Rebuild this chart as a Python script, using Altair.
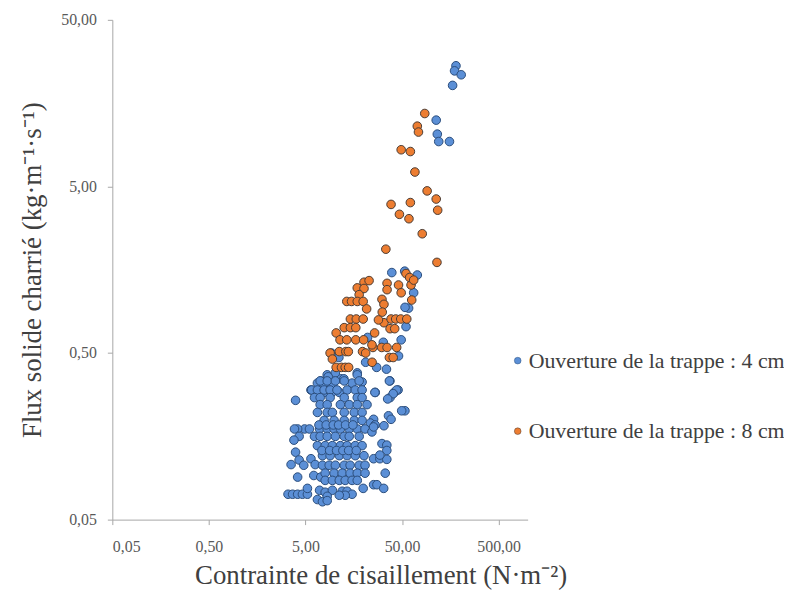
import altair as alt
import pandas as pd

# Series 1: Ouverture de la trappe : 4 cm (shear stress N/m2, bedload flux kg/m/s)
blue_x = [181, 175, 205, 167, 113, 116, 120, 155,
          39.2, 72, 66, 58.5, 53.7, 55, 49, 32, 9.3, 46, 21, 27.3, 34.5, 37.5, 53.3, 22,
          17.2, 26.4, 37.6, 41.5, 45.5, 53.6,
          8.4, 7.2, 9.1, 5.7, 3.95, 6.3, 7.8, 9.4, 11.2, 11.6, 10.2, 11.1,
          8.6, 6.65, 7.8, 9.5, 12.5, 15.2, 17.2, 19.3,
          7.1, 8.4, 10.2, 12.6, 18.0,
          5.8, 6.65, 7.8, 9.0, 10.6, 13.5, 16.4, 19.3,
          26.2, 37, 44, 40.5, 35.5,
          6.2, 7.1, 9.0, 12.6, 17.2, 19.3,
          49.6, 36.2, 38.5,
          7.1, 8.4, 11.5, 14.2, 17.2, 21.7,
          6.65, 8.4, 9.5, 12.6, 16.0, 19.3,
          25.4, 23.5, 26.3, 32.5,
          7.8, 9.9, 12.6, 16.0, 19.3,
          4.9, 5.5, 4.15, 3.85, 7.0, 8.4, 9.9, 11.5, 14.2, 17.2, 20.7,
          4.3, 3.8,
          6.2, 7.1, 8.4, 10.2, 12.6, 14.2, 18.0,
          24.4, 25.4, 31, 34.8, 34.8,
          6.65, 8.0, 9.5, 11.5, 13.5, 16.4, 19.3,
          3.95, 3.55, 4.3, 4.8, 5.7, 6.3,
          7.5, 9.0, 11.2, 13.5, 16.4, 20.2,
          25.4, 29.5, 34.8, 29.5,
          7.5, 8.8, 10.2, 12.6, 14.5, 18.0, 20.7,
          33.5, 4.15, 6.1, 7.2,
          8.0, 9.9, 12.0, 14.5, 17.2, 20.7,
          8.0, 9.5, 11.2, 12.9, 15.2, 17.2,
          25.4, 27.5, 32.3, 19.8,
          3.3, 3.68, 4.15, 4.65, 5.24, 5.24,
          7.0, 8.0, 9.5, 12.0, 13.5, 15.2, 12.9, 11.2, 8.4,
          6.65, 7.5, 8.4,
          6.9, 8.2, 9.7, 11.0, 13.0, 15.5, 7.4, 8.9, 10.5, 12.2, 14.0, 16.8]
blue_y = [26.5, 24.7, 23.4, 20.2, 12.5, 10.3, 9.3, 9.3,
          1.52, 1.47, 1.15, 0.93, 0.94, 0.72, 0.60, 0.58, 0.50, 0.48, 0.44, 0.41, 0.40, 0.34, 1.55, 0.62,
          0.38, 0.29, 0.27, 0.29, 0.30, 0.225,
          0.37, 0.34, 0.34, 0.30, 0.26, 0.29, 0.29, 0.29, 0.29, 0.35, 0.38, 0.47,
          0.36, 0.33, 0.32, 0.32, 0.35, 0.33, 0.37, 0.335,
          0.34, 0.34, 0.34, 0.34, 0.34,
          0.30, 0.30, 0.30, 0.30, 0.30, 0.30, 0.30, 0.30,
          0.29, 0.34, 0.30, 0.285, 0.265,
          0.27, 0.27, 0.27, 0.27, 0.27, 0.27,
          0.225, 0.21, 0.20,
          0.245, 0.245, 0.245, 0.245, 0.245, 0.245,
          0.22, 0.22, 0.22, 0.22, 0.22, 0.22,
          0.20, 0.19, 0.185, 0.183,
          0.197, 0.197, 0.197, 0.197, 0.197,
          0.175, 0.175, 0.175, 0.175, 0.175, 0.175, 0.175, 0.175, 0.175, 0.175, 0.175,
          0.158, 0.15,
          0.158, 0.158, 0.158, 0.158, 0.158, 0.158, 0.158,
          0.168, 0.18, 0.143, 0.14, 0.13,
          0.139, 0.139, 0.139, 0.139, 0.139, 0.139, 0.139,
          0.127, 0.107, 0.114, 0.106, 0.116, 0.107,
          0.121, 0.121, 0.121, 0.121, 0.121, 0.121,
          0.116, 0.116, 0.115, 0.122,
          0.106, 0.106, 0.106, 0.106, 0.106, 0.106, 0.106,
          0.095, 0.09, 0.092, 0.09,
          0.095, 0.095, 0.095, 0.095, 0.095, 0.095,
          0.086, 0.086, 0.086, 0.086, 0.086, 0.086,
          0.081, 0.081, 0.077, 0.077,
          0.071, 0.071, 0.071, 0.071, 0.071, 0.077,
          0.075, 0.073, 0.075, 0.074, 0.074, 0.071, 0.07, 0.07, 0.069,
          0.066, 0.064, 0.065,
          0.185, 0.185, 0.185, 0.185, 0.185, 0.185, 0.13, 0.13, 0.13, 0.13, 0.13, 0.13]

# Series 2: Ouverture de la trappe : 8 cm
orange_x = [86, 72, 74, 49, 61, 68, 91, 113, 117, 38.5, 61, 47, 59, 81, 34, 115,
            55, 60, 62, 66, 46, 49, 35, 35, 63, 20.2, 22.8, 17.2, 20.2, 18,
            13.4, 15.0, 17.2, 19.8, 21.5, 31, 32.5, 31.2, 32.5, 28.5,
            14.6, 16.8, 19.8, 38.5, 43, 48.5, 56,
            12.6, 14.6, 16.6, 37.6, 42, 10.4, 26,
            11.4, 13.4, 16.6, 20, 25, 30.8, 35, 44, 24.4,
            11.2, 13.1, 13.9, 19.5, 21, 37, 40.5,
            10.4, 11.8, 12.9, 14, 24.5, 9.0, 9.5]
orange_y = [13.7, 11.5, 10.6, 8.3, 8.1, 6.1, 4.7, 4.2, 3.6, 3.9, 4.0, 3.4, 3.2, 2.6, 2.1, 1.75,
            1.5, 1.42, 1.28, 1.37, 1.28, 1.15, 1.31, 1.2, 1.04, 1.33, 1.36, 1.23, 1.22, 1.12,
            1.02, 1.02, 1.02, 1.02, 0.92, 1.05, 0.98, 0.88, 0.76, 0.79,
            0.80, 0.80, 0.80, 0.80, 0.80, 0.80, 0.80,
            0.71, 0.71, 0.71, 0.70, 0.70, 0.66, 0.66,
            0.60, 0.60, 0.60, 0.60, 0.54, 0.54, 0.54, 0.54, 0.56,
            0.51, 0.51, 0.51, 0.51, 0.50, 0.47, 0.47,
            0.41, 0.41, 0.41, 0.41, 0.44, 0.50, 0.46]

series = ["Ouverture de la trappe : 4 cm", "Ouverture de la trappe : 8 cm"]
x_ticks = [0.05, 0.5, 5, 50, 500]
y_ticks = [0.05, 0.5, 5, 50]

df = pd.concat([
    pd.DataFrame({"x": blue_x, "y": blue_y, "s": series[0]}),
    pd.DataFrame({"x": orange_x, "y": orange_y, "s": series[1]}),
])

FONT = "Liberation Serif"
label_expr = "replace(format(datum.value, '.2f'), '.', ',')"

axis_style = dict(labelFont=FONT, titleFont=FONT, labelFontSize=16, titleFontSize=27,
                  labelColor="#595959", titleColor="#404040", titleFontWeight="normal",
                  domainColor="#A6A6A6", tickColor="#A6A6A6", tickSize=5, grid=False,
                  labelExpr=label_expr)

chart = alt.Chart(df).mark_point(filled=True, opacity=1, strokeWidth=1, strokeOpacity=1).encode(
    x=alt.X("x:Q", scale=alt.Scale(type="log", domain=[0.05, 1000], nice=False),
            axis=alt.Axis(title="Contrainte de cisaillement (N·m⁻²)", values=x_ticks,
                          titleX=270, titleAlign="center",
                          labelPadding=14, titlePadding=8, **axis_style)),
    y=alt.Y("y:Q", scale=alt.Scale(type="log", domain=[0.05, 50], nice=False),
            axis=alt.Axis(title="Flux solide charrié (kg·m⁻¹·s⁻¹)", values=y_ticks,
                          labelPadding=11, titlePadding=14, **axis_style)),
    fill=alt.Fill("s:N", scale=alt.Scale(domain=series, range=["#5B8FD6", "#ED7D31"]),
                  legend=alt.Legend(title=None, orient="none", legendX=397, legendY=332,
                                    symbolType="circle", symbolSize=45, labelFontSize=22,
                                    labelFont=FONT, labelColor="#404040", rowPadding=49,
                                    labelOffset=0, symbolStrokeWidth=0.5, labelLimit=400)),
    stroke=alt.Stroke("s:N", scale=alt.Scale(domain=series, range=["#2B4E7C", "#4A3B33"]),
                      legend=None),
    size=alt.value(75),
).properties(
    width=418, height=503,
    autosize=alt.AutoSizeParams(type="none"),
    padding={"left": 105, "top": 10, "right": 258, "bottom": 80},
).configure_view(stroke=None)

chart.save("out.html", embed_options={"renderer": "svg", "actions": False})
